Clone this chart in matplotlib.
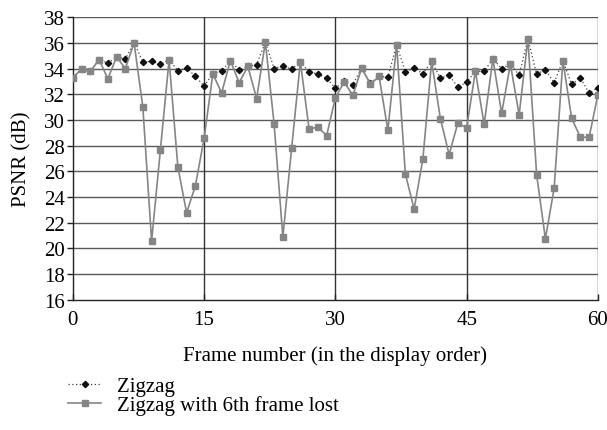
import matplotlib
matplotlib.use("Agg")
import matplotlib.pyplot as plt
from matplotlib.lines import Line2D

frames = list(range(61))
zigzag = [33.3, 33.95, 33.8, 34.7, 34.42, 34.9, 34.75, 36.0, 34.52, 34.55,
          34.34, 34.68, 33.84, 34.03, 33.4, 32.62, 33.6, 33.8, 34.6, 33.9,
          34.16, 34.3, 36.05, 34.0, 34.2, 33.95, 34.52, 33.74, 33.58, 33.25,
          32.47, 33.0, 32.75, 34.03, 32.9, 33.38, 33.32, 35.84, 33.74, 34.03,
          33.6, 34.55, 33.25, 33.48, 32.55, 32.94, 33.79, 33.77, 34.75, 34.0,
          34.34, 33.48, 36.31, 33.56, 33.92, 32.88, 34.62, 32.78, 33.25, 32.1,
          32.5]
zigzag_lost = [33.3, 33.95, 33.77, 34.7, 33.2, 34.9, 34.0, 36.0, 31.0, 20.57,
               27.64, 34.68, 26.34, 22.78, 24.86, 28.57, 33.58, 32.1, 34.62, 32.9,
               34.16, 31.66, 36.05, 29.69, 20.88, 27.79, 34.52, 29.27, 29.45, 28.78,
               31.71, 32.96, 31.9, 34.03, 32.78, 33.38, 29.19, 35.84, 25.79, 23.06,
               26.96, 34.55, 30.1, 27.3, 29.77, 29.38, 33.79, 29.66, 34.75, 30.52,
               34.34, 30.39, 36.31, 25.74, 20.75, 24.68, 34.62, 30.13, 28.65, 28.65,
               31.97]
xticks = [0, 15, 30, 45, 60]
yticks = list(range(16, 39, 2))

plt.rcParams['font.family'] = ['Liberation Serif', 'DejaVu Serif']
fs = 15

fig = plt.figure(figsize=(6.07, 4.31), dpi=100)
ax = fig.add_axes([0.120, 0.302, 0.865, 0.656])

grid_c = '#5a5a5a'
for y in yticks[1:]:
    ax.axhline(y, color=grid_c, lw=1.0, zorder=1)
for x in xticks[1:]:
    ax.axvline(x, color='#333333', lw=1.0, zorder=1)

gray = '#858585'
ax.plot(frames, zigzag, linestyle=(0, (1, 2)), color='#444444', lw=0.9,
        marker='D', markersize=3.2, markerfacecolor='#111111',
        markeredgecolor='#111111', zorder=3)
ax.plot(frames, zigzag_lost, linestyle='-', color=gray, lw=1.2,
        marker='s', markersize=4.5, markerfacecolor=gray,
        markeredgecolor=gray, zorder=4)

ax.set_xlim(0, 60)
ax.set_ylim(16, 38)
ax.set_xticks(xticks)
ax.set_yticks(yticks)
for s in ['top', 'right']:
    ax.spines[s].set_visible(False)
for s in ['left', 'bottom']:
    ax.spines[s].set_color('#222222')
    ax.spines[s].set_linewidth(1.0)
ax.tick_params(axis='y', direction='out', length=4, width=1.0, labelsize=fs, pad=2, color='#222222')
ax.tick_params(axis='x', direction='in', length=4, width=1.0, labelsize=fs, pad=7, color='#222222')
ax.set_xlabel('Frame number (in the display order)', fontsize=fs, labelpad=12)
ax.set_ylabel('PSNR (dB)', fontsize=fs, labelpad=9)

h1 = Line2D([], [], linestyle=(0, (1, 2)), color='#444444', lw=0.9, marker='D',
            markersize=3.2, markerfacecolor='#111111', markeredgecolor='#111111')
h2 = Line2D([], [], linestyle='-', color=gray, lw=1.2, marker='s',
            markersize=4.5, markerfacecolor=gray, markeredgecolor=gray)
fig.legend([h1, h2], ['Zigzag', 'Zigzag with 6th frame lost'],
           loc='upper left', bbox_to_anchor=(0.112, 0.124), frameon=False,
           fontsize=fs, handlelength=1.6, handletextpad=0.75, labelspacing=-0.05,
           borderaxespad=0, borderpad=0)

fig.savefig('out.png', dpi=100)
